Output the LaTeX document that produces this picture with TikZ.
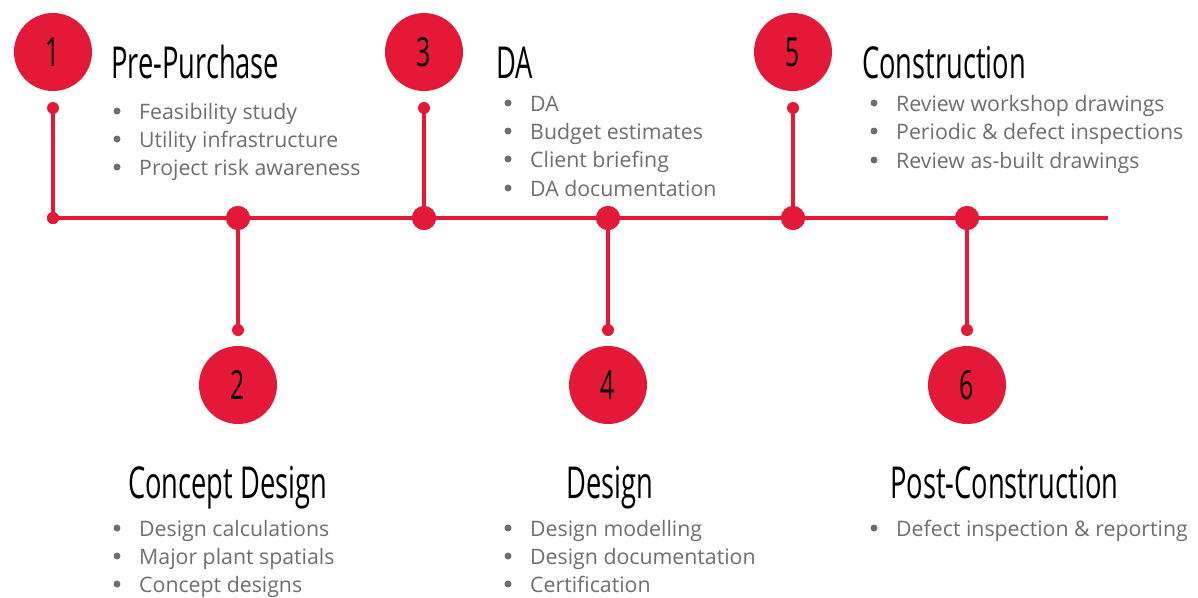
\documentclass[tikz,border=0pt]{standalone}
\usepackage{fontspec}
\setmainfont{Open Sans}
\newfontfamily\condfont[FakeStretch=0.62]{Open Sans}
\definecolor{tred}{HTML}{E31937}
\definecolor{tgray}{HTML}{6E6E6E}
\begin{document}
\begin{tikzpicture}[x=1pt,y=-1pt,
  bigc/.style={circle,fill=tred,minimum size=78pt,inner sep=0pt,font=\condfont\fontsize{40}{40}\selectfont,text=black},
  dotbig/.style={circle,fill=tred,minimum size=24pt,inner sep=0pt},
  dotsm/.style={circle,fill=tred,minimum size=12pt,inner sep=0pt},
  conn/.style={draw=tred,line width=4pt},
  title/.style={anchor=base west,inner sep=0pt,font=\condfont\fontsize{44}{44}\selectfont,text=black},
  item/.style={anchor=base west,inner sep=0pt,font=\fontsize{21.3}{21.3}\selectfont,text=tgray},
  bul/.style={circle,fill=tgray,minimum size=7pt,inner sep=0pt}]
\useasboundingbox (0,0) rectangle (1198,597);
% main line
\coordinate (lend) at (1108,218);
\node[dotsm] (j1) at (53,218) {};
\node[dotbig] (j2) at (238,218) {};
\node[dotbig] (j3) at (424,218) {};
\node[dotbig] (j4) at (608,218) {};
\node[dotbig] (j5) at (793,218) {};
\node[dotbig] (j6) at (967,218) {};
\draw[conn] (j1.center) -- (lend);
\node[dotsm] (t1) at (53,108) {};
\node[dotsm] (t3) at (424,108) {};
\node[dotsm] (t5) at (793,108) {};
\node[dotsm] (t2) at (238,330) {};
\node[dotsm] (t4) at (608,330) {};
\node[dotsm] (t6) at (967,330) {};
\draw[conn] (t1.center) -- (j1.center);
\draw[conn] (t3.center) -- (j3.center);
\draw[conn] (t5.center) -- (j5.center);
\draw[conn] (j2.center) -- (t2.center);
\draw[conn] (j4.center) -- (t4.center);
\draw[conn] (j6.center) -- (t6.center);
\node[dotsm] at (j1) {};
\node[dotbig] at (j2) {};
\node[dotbig] at (j3) {};
\node[dotbig] at (j4) {};
\node[dotbig] at (j5) {};
\node[dotbig] at (j6) {};
% big circles
\node[bigc] (c1) at (53,52) {1};
\node[bigc] (c3) at (424,52) {3};
\node[bigc] (c5) at (793,52) {5};
\node[bigc] (c2) at (238,385) {2};
\node[bigc] (c4) at (608,385) {4};
\node[bigc] (c6) at (967,385) {6};
% titles
\node[title] (h1) at (111,78) {Pre-Purchase};
\node[title] (h3) at (496,78) {DA};
\node[title] (h5) at (862,78) {Construction};
\node[title] (h2) at (128,498) {Concept Design};
\node[title] (h4) at (566,498) {Design};
\node[title] (h6) at (890,498) {Post-Construction};
% lists
\foreach \x/\y/\t [count=\i] in {
  139/111/Feasibility study, 139/139/Utility infrastructure, 139/167/Project risk awareness,
  530/103/DA, 530/131/Budget estimates, 530/159/Client briefing, 530/188/DA documentation,
  896/103/Review workshop drawings, 896/131/Periodic \& defect inspections, 896/160/Review as-built drawings,
  139/528/Design calculations, 139/556/Major plant spatials, 139/584/Concept designs,
  530/528/Design modelling, 530/556/Design documentation, 530/584/Certification,
  896/528/Defect inspection \& reporting}{
  \node[bul] (b\i) at (\x-22,\y) {};
  \node[item] (l\i) at (\x,\y+8) {\t};
}
\end{tikzpicture}
\end{document}
